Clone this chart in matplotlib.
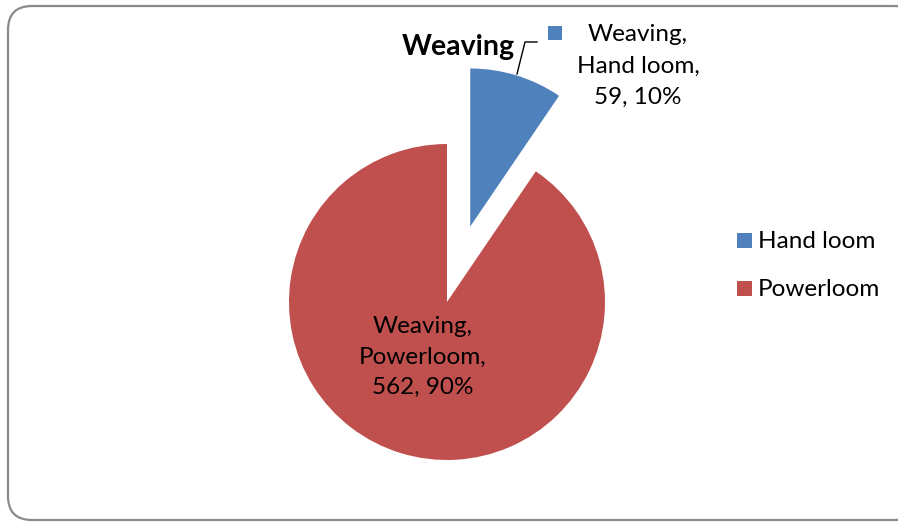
import matplotlib.pyplot as plt
from matplotlib.patches import FancyBboxPatch, Rectangle

# data
title = "Weaving"
categories = ["Hand loom", "Powerloom"]
values = [59, 562]
colors = ["#4F81BD", "#C0504D"]

plt.rcParams["font.family"] = ["Lato", "DejaVu Sans"]

fig = plt.figure(figsize=(8.98, 5.23), dpi=100)
ax = fig.add_axes([0, 0, 1, 1])

# rounded chart border
border = FancyBboxPatch((8, 3), 910, 514, boxstyle="round,pad=0,rounding_size=24",
                        fc="white", ec="#8a8a8a", lw=1.6)
ax.add_patch(border)

total = sum(values)
radius = 158
ax.pie(values, colors=colors, center=(447, 221), radius=radius, startangle=90,
       counterclock=False, explode=[0.5 * radius, 0], wedgeprops=dict(linewidth=0))

pct = [round(v * 100 / total) for v in values]
fs = 17.5

# data labels
ax.text(638, 457, "%s,\n%s,\n%d, %d%%" % (title, categories[0], values[0], pct[0]),
        ha="center", va="center", fontsize=fs, linespacing=1.6)
ax.add_patch(Rectangle((548, 483), 14, 14, fc=colors[0], ec="none"))
ax.text(423, 166, "%s,\n%s,\n%d, %d%%" % (title, categories[1], values[1], pct[1]),
        ha="center", va="center", fontsize=fs, linespacing=1.55)

# title with leader line
ax.text(515, 476, title, ha="right", va="center", fontsize=20.5, fontweight="bold")
ax.plot([517, 525, 537], [449, 481, 481], color="black", lw=1)

# legend
leg_y = [240, 288]
for i in range(len(categories)):
    yy = 523 - leg_y[i]
    ax.add_patch(Rectangle((737, yy - 8), 15, 15, fc=colors[i], ec="none"))
    ax.text(758, yy - 2, categories[i], ha="left", va="center", fontsize=fs)

ax.set_xlim(0, 898)
ax.set_ylim(0, 523)
ax.set_aspect("equal")
ax.axis("off")

plt.savefig("out.png", dpi=100)
